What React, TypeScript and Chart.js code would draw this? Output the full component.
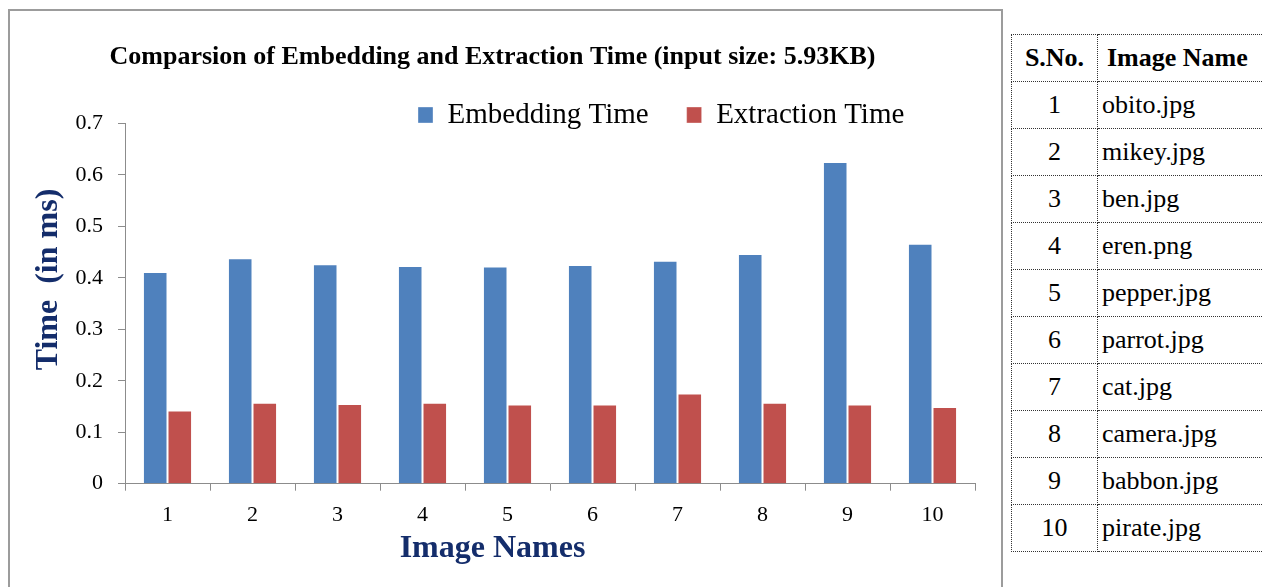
import React, { useEffect, useRef } from 'react';
import { Chart, registerables } from 'chart.js';

Chart.register(...registerables);

// ---------- data ----------
const categories = ['1', '2', '3', '4', '5', '6', '7', '8', '9', '10'];
const embeddingTime = [0.411, 0.438, 0.426, 0.423, 0.422, 0.425, 0.433, 0.446, 0.625, 0.466];
const extractionTime = [0.142, 0.157, 0.155, 0.157, 0.154, 0.154, 0.175, 0.157, 0.154, 0.149];
const yTickLabels = ['0', '0.1', '0.2', '0.3', '0.4', '0.5', '0.6', '0.7'];
const seriesNames = ['Embedding Time', 'Extraction Time'];
const chartTitle = 'Comparsion of Embedding and Extraction Time (input size: 5.93KB)';
const xAxisTitle = 'Image Names';
const yAxisTitle = 'Time  (in ms)';
const tableHeader = ['S.No.', 'Image Name'];
const serialNumbers = ['1', '2', '3', '4', '5', '6', '7', '8', '9', '10'];
const imageNames = [
  'obito.jpg', 'mikey.jpg', 'ben.jpg', 'eren.png', 'pepper.jpg',
  'parrot.jpg', 'cat.jpg', 'camera.jpg', 'babbon.jpg', 'pirate.jpg',
];

// ---------- styles ----------
const SERIF = "'Liberation Serif', 'Times New Roman', serif";
const BLUE = '#4F81BD';
const RED = '#C0504D';
const AXIS_GRAY = '#8C8C8C';
const NAVY = '#142D6B';
const LEGEND_PADDING = 38;

const legendPlacer = {
  id: 'legendPlacer',
  afterLayout(chart: any) {
    const lg = chart.legend;
    if (!lg) return;
    const w = lg.width;
    const h = 100;
    const left = 370;
    const top = 51.5;
    lg.left = left;
    lg.right = left + w;
    lg.top = top;
    lg.height = h;
    lg.bottom = top + h;
  },
};

function BarChart() {
  const ref = useRef<HTMLCanvasElement | null>(null);
  useEffect(() => {
    if (!ref.current) return;
    const chart = new Chart(ref.current, {
      type: 'bar',
      data: {
        labels: categories,
        datasets: [
          {
            label: seriesNames[0],
            data: embeddingTime,
            backgroundColor: BLUE,
            borderColor: 'rgba(255,255,255,0.35)',
            borderWidth: 1,
            categoryPercentage: 0.578,
            barPercentage: 1,
          },
          {
            label: seriesNames[1],
            data: extractionTime,
            backgroundColor: RED,
            borderColor: 'rgba(255,255,255,0.35)',
            borderWidth: 1,
            categoryPercentage: 0.578,
            barPercentage: 1,
          },
        ],
      },
      options: {
        responsive: false,
        animation: false,
        layout: { padding: { left: 0, right: 26, top: 0, bottom: 0 } },
        plugins: {
          tooltip: { enabled: false },
          title: {
            display: true,
            text: chartTitle,
            color: '#000',
            font: { family: SERIF, size: 26, weight: 'bold', lineHeight: 1.2 },
            padding: { top: 30.4, bottom: 0 },
          },
          subtitle: {
            display: true,
            text: xAxisTitle,
            position: 'bottom',
            color: NAVY,
            font: { family: SERIF, size: 32, weight: 'bold', lineHeight: 1.2 },
            padding: { top: 0, bottom: 22.8 },
          },
          legend: {
            display: true,
            position: 'top',
            align: 'start',
            maxHeight: 50.7,
            labels: {
              color: '#000',
              font: { family: SERIF, size: 29 },
              boxWidth: 15,
              boxHeight: 16,
              padding: LEGEND_PADDING,
            },
          },
        },
        scales: {
          x: {
            afterFit: (scale: any) => { scale.height = 46.1; },
            grid: {
              display: true,
              drawOnChartArea: false,
              drawTicks: true,
              tickLength: 7,
              color: AXIS_GRAY,
              offset: true,
            },
            border: { display: true, color: AXIS_GRAY, width: 1 },
            ticks: {
              color: '#000',
              font: { family: SERIF, size: 22 },
              padding: 11,
              maxRotation: 0,
            },
          },
          y: {
            min: 0,
            max: 0.7,
            afterFit: (scale: any) => { scale.width = 115; },
            grid: {
              display: true,
              drawOnChartArea: false,
              drawTicks: true,
              tickLength: 7,
              color: AXIS_GRAY,
            },
            border: { display: true, color: AXIS_GRAY, width: 1 },
            ticks: {
              stepSize: 0.1,
              color: '#000',
              font: { family: SERIF, size: 22 },
              padding: 15,
              callback: (value: any, index: number) => yTickLabels[index] ?? String(value),
            },
            title: {
              display: true,
              text: '      ' + yAxisTitle,
              color: NAVY,
              font: { family: SERIF, size: 32, weight: 'bold', lineHeight: 1.2 },
              padding: { top: 19.8, bottom: 0 },
            },
          },
        },
      },
      plugins: [legendPlacer],
    } as any);
    return () => chart.destroy();
  }, []);
  return <canvas ref={ref} width={991} height={580} style={{ display: 'block' }} />;
}

const cellBase: React.CSSProperties = {
  border: '1px dotted #333',
  height: 46,
  padding: 0,
  fontFamily: SERIF,
  fontSize: 26,
  color: '#000',
  verticalAlign: 'middle',
  whiteSpace: 'nowrap',
};

export default function App() {
  return (
    <div
      style={{
        position: 'fixed',
        left: 0,
        top: 0,
        width: 1262,
        height: 587,
        overflow: 'hidden',
        background: '#fff',
      }}
    >
      <div
        style={{
          position: 'absolute',
          left: 8,
          top: 9,
          width: 995,
          height: 620,
          boxSizing: 'border-box',
          border: '2px solid #9C9C9C',
          background: '#fff',
        }}
      >
        <BarChart />
      </div>
      <table
        style={{
          position: 'absolute',
          left: 1011,
          top: 34,
          borderCollapse: 'collapse',
          tableLayout: 'fixed',
          width: 300,
        }}
      >
        <colgroup>
          <col style={{ width: 86 }} />
          <col style={{ width: 214 }} />
        </colgroup>
        <thead>
          <tr>
            <th style={{ ...cellBase, fontWeight: 'bold', textAlign: 'center' }}>{tableHeader[0]}</th>
            <th style={{ ...cellBase, fontWeight: 'bold', textAlign: 'left', paddingLeft: 9 }}>{tableHeader[1]}</th>
          </tr>
        </thead>
        <tbody>
          {imageNames.map((name, i) => (
            <tr key={name}>
              <td style={{ ...cellBase, textAlign: 'center' }}>{serialNumbers[i]}</td>
              <td style={{ ...cellBase, textAlign: 'left', paddingLeft: 4 }}>{name}</td>
            </tr>
          ))}
        </tbody>
      </table>
    </div>
  );
}
